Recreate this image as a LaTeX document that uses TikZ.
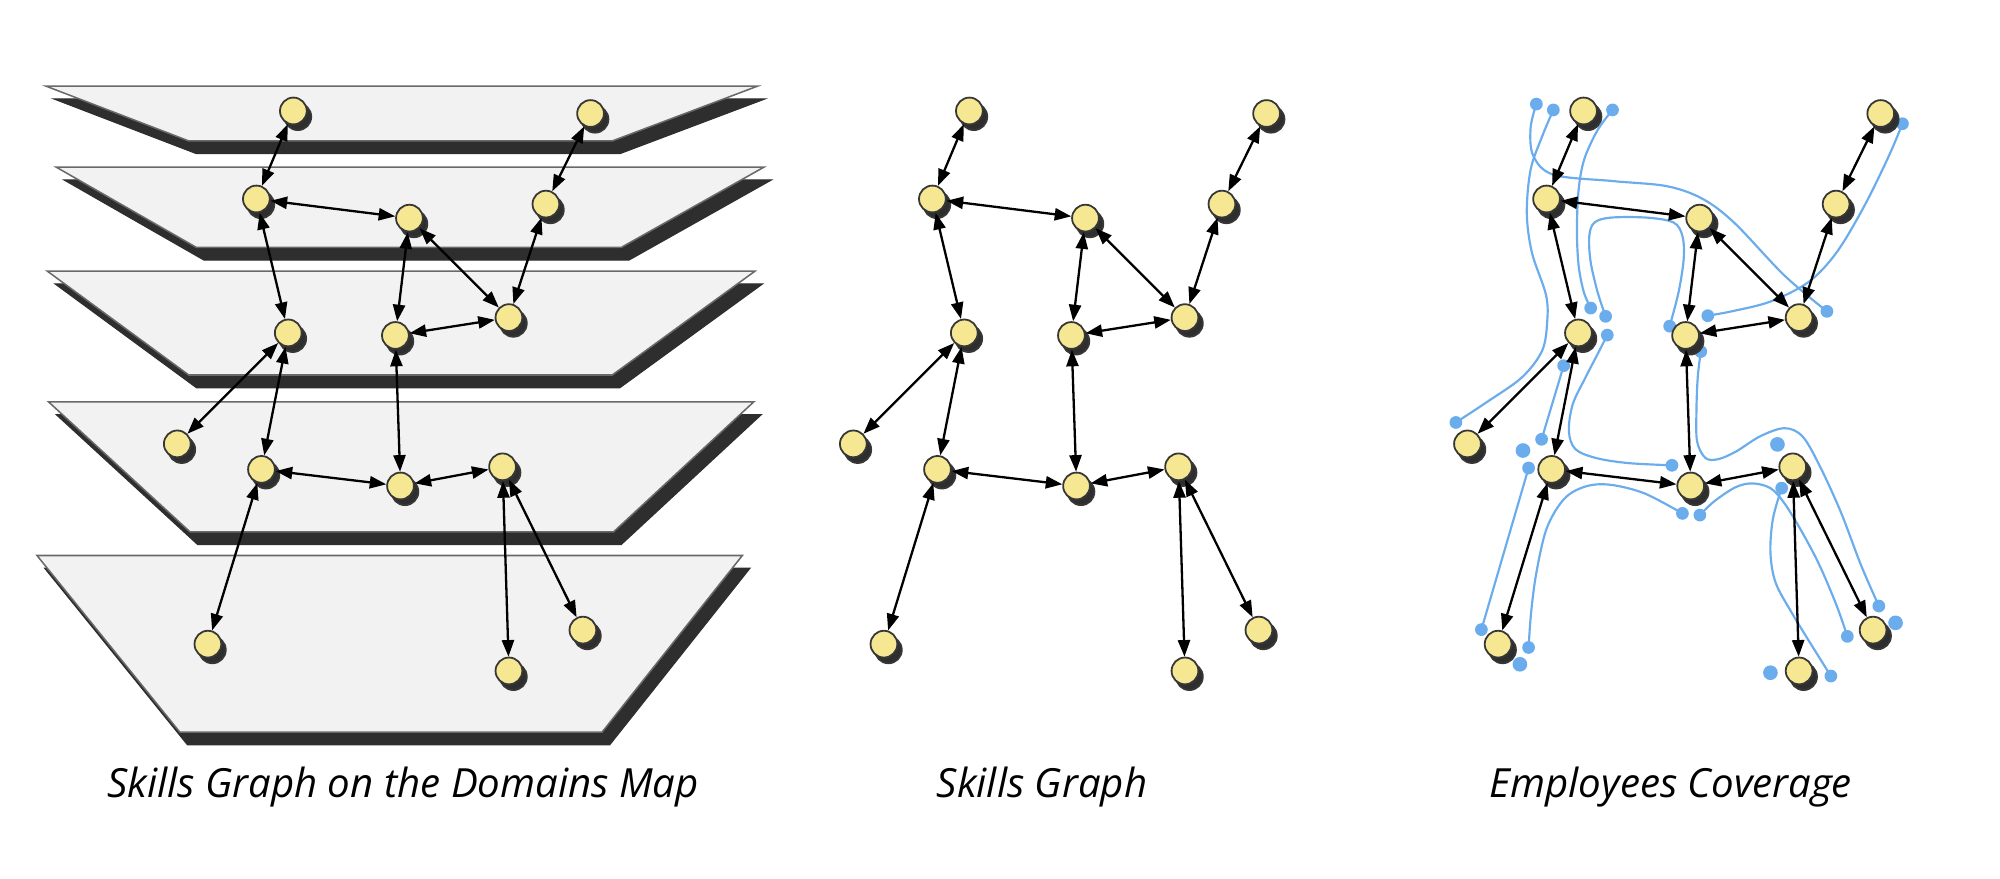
\documentclass[tikz,border=0pt]{standalone}
\usepackage{fontspec}
\setmainfont{Open Sans}
\usetikzlibrary{arrows.meta,shadows}
\definecolor{planefill}{RGB}{242,242,242}
\definecolor{planeline}{RGB}{105,105,105}
\definecolor{planeshadow}{RGB}{46,46,46}
\definecolor{skillfill}{RGB}{246,232,146}
\definecolor{skillline}{RGB}{55,55,55}
\definecolor{empblue}{RGB}{106,172,236}
\tikzset{
  plane/.style={fill=planefill, draw=planeline, line width=1.2pt, line join=miter},
  planeshade/.style={fill=planeshadow, draw=planeshadow, line width=0.8pt},
  skill/.style={circle, minimum size=21pt, inner sep=0pt, fill=skillfill, draw=skillline, line width=1.4pt,
    drop shadow={shadow xshift=3.5pt, shadow yshift=-4.5pt, fill=planeshadow, draw=skillline, opacity=1}},
  link/.style={{Triangle[length=13pt,width=9.5pt]}-{Triangle[length=13pt,width=9.5pt]}, line width=1.8pt, black},
  emp/.style={draw=empblue, line width=1.7pt, line cap=round},
  empdot/.style={circle, fill=empblue, inner sep=0pt, minimum size=10pt},
  bigdot/.style={empdot, minimum size=11.5pt},
  caption/.style={font=\fontsize{31.5}{38}\selectfont\itshape, anchor=base, inner sep=0pt}
}
\newcommand{\skgraph}[2]{%
  \begin{scope}[xshift=#2]
    \node[skill] (#1n1) at (230,87) {};
    \node[skill] (#1n2) at (201,156) {};
    \node[skill] (#1n3) at (321,171) {};
    \node[skill] (#1n4) at (463,89) {};
    \node[skill] (#1n5) at (428,160) {};
    \node[skill] (#1n6) at (226,261) {};
    \node[skill] (#1n7) at (310,263) {};
    \node[skill] (#1n8) at (399,249) {};
    \node[skill] (#1n9) at (139,348) {};
    \node[skill] (#1n10) at (205,368) {};
    \node[skill] (#1n11) at (314,381) {};
    \node[skill] (#1n12) at (394,366) {};
    \node[skill] (#1n13) at (163,505) {};
    \node[skill] (#1n14) at (399,526) {};
    \node[skill] (#1n15) at (457,494) {};
  \end{scope}
  \draw[link] (#1n1) -- (#1n2);
  \draw[link] (#1n2) -- (#1n3);
  \draw[link] (#1n2) -- (#1n6);
  \draw[link] (#1n3) -- (#1n7);
  \draw[link] (#1n3) -- (#1n8);
  \draw[link] (#1n4) -- (#1n5);
  \draw[link] (#1n5) -- (#1n8);
  \draw[link] (#1n7) -- (#1n8);
  \draw[link] (#1n6) -- (#1n9);
  \draw[link] (#1n6) -- (#1n10);
  \draw[link] (#1n7) -- (#1n11);
  \draw[link] (#1n10) -- (#1n11);
  \draw[link] (#1n11) -- (#1n12);
  \draw[link] (#1n10) -- (#1n13);
  \draw[link] (#1n12) -- (#1n14);
  \draw[link] (#1n12) -- (#1n15);
}
\begin{document}
\begin{tikzpicture}[x=1pt,y=-1pt]
\useasboundingbox (0,0) rectangle (1568,689);
% ---------- domain planes ----------
\draw[planeshade, shift={(6,10)}] (36,67.5) -- (594,67.5) -- (480,110.5) -- (148,110.5) -- cycle;
\draw[plane] (36,67.5) -- (594,67.5) -- (480,110.5) -- (148,110.5) -- cycle;
\draw[planeshade, shift={(6,10)}] (44,131) -- (599,131) -- (487,194) -- (154,194) -- cycle;
\draw[plane] (44,131) -- (599,131) -- (487,194) -- (154,194) -- cycle;
\draw[planeshade, shift={(6,10)}] (37,212.5) -- (592,212.5) -- (480,294) -- (148,294) -- cycle;
\draw[plane] (37,212.5) -- (592,212.5) -- (480,294) -- (148,294) -- cycle;
\draw[planeshade, shift={(6,10)}] (38,315) -- (591,315) -- (481,417) -- (149,417) -- cycle;
\draw[plane] (38,315) -- (591,315) -- (481,417) -- (149,417) -- cycle;
\draw[planeshade, shift={(6,10)}] (29,435.5) -- (582,435.5) -- (472,574) -- (141,574) -- cycle;
\draw[plane] (29,435.5) -- (582,435.5) -- (472,574) -- (141,574) -- cycle;
% ---------- employees coverage (blue) ----------
\node[empdot] (a1) at (1204.5,81.6) {};
\node[empdot] (a2) at (1432.3,244.1) {};
\node[empdot] (b1) at (1217.8,86.2) {};
\node[empdot] (b2) at (1141.4,331.2) {};
\node[empdot] (c1) at (1264.2,86.2) {};
\node[empdot] (c2) at (1247.1,241.5) {};
\node[empdot] (d1) at (1491.5,97) {};
\node[empdot] (d2) at (1338.9,247.5) {};
\node[empdot] (f1) at (1258.8,248) {};
\node[empdot] (f2) at (1309,255.7) {};
\node[empdot] (g1) at (1260.1,262.7) {};
\node[empdot] (g2) at (1310.8,364.8) {};
\node[empdot] (k1) at (1333.4,275.6) {};
\node[empdot] (k2) at (1473,475.1) {};
\node[empdot] (l1) at (1225.9,286.7) {};
\node[empdot] (l2) at (1208.6,344.4) {};
\node[empdot] (p1) at (1198.4,366.9) {};
\node[empdot] (p2) at (1161.4,493.6) {};
\node[empdot] (q1) at (1198.4,507.6) {};
\node[empdot] (q2) at (1319,402.5) {};
\node[empdot] (r1) at (1332.7,403.8) {};
\node[empdot] (r2) at (1448.3,498.9) {};
\node[empdot] (s1) at (1396.8,382.7) {};
\node[empdot] (s2) at (1435.4,530) {};
\node[bigdot] (t1) at (1194,353.2) {};
\node[bigdot] (t2) at (1393.5,348.4) {};
\node[bigdot] (t3) at (1191.6,520.8) {};
\node[bigdot] (t4) at (1486.1,488.3) {};
\node[bigdot] (t5) at (1388,527.4) {};
\draw[emp] plot[smooth, tension=0.55] coordinates {(a1.center) (1200,100) (1202,122) (1218,137) (1265,142) (1307,146) (1335,156) (1360,175) (1399,216) (a2.center)};
\draw[emp] plot[smooth, tension=0.55] coordinates {(b1.center) (1209,107) (1200,133) (1197,167) (1201,198) (1212,231) (1213,252) (1209,275) (1193,296) (1166,315) (b2.center)};
\draw[emp] plot[smooth, tension=0.55] coordinates {(c1.center) (1252.5,102) (1242,125) (1237.6,149) (1236.3,180) (1237.6,208) (1241.7,229) (c2.center)};
\draw[emp] plot[smooth, tension=0.55] coordinates {(f1.center) (1252.5,229) (1247,205) (1246,185) (1250,174.5) (1263,170.6) (1291,170.6) (1312,174.4) (1319,185) (1320,203) (1316,229) (f2.center)};
\draw[emp] plot[smooth, tension=0.55] coordinates {(d1.center) (1480.6,122.8) (1461.6,161.5) (1440,197.7) (1418,221) (1388,236.4) (1358,244) (d2.center)};
\draw[emp] plot[smooth, tension=0.55] coordinates {(g1.center) (1252.5,277.6) (1243,296) (1233,317) (1230,338) (1235,352) (1251,359) (1276,363) (g2.center)};
\draw[emp] plot[smooth, tension=0.55] coordinates {(k1.center) (1331,296) (1330,322) (1330.5,346) (1337,359) (1347,360) (1361,354) (1380,342) (1399,335.7) (1413,342) (1426,364) (1443,401) (1459,443) (k2.center)};
\draw[emp] (l1.center) -- (l2.center);
\draw[emp] (p1.center) -- (p2.center);
\draw[emp] plot[smooth, tension=0.55] coordinates {(q1.center) (1200.4,480) (1204.5,449) (1212.7,414) (1226.4,391) (1243,381.4) (1262,380) (1289,386.7) (q2.center)};
\draw[emp] plot[smooth, tension=0.55] coordinates {(r1.center) (1344,393) (1360.6,382) (1374,379) (1388,382.7) (1399,394.6) (1412.7,417) (1426.4,443) (1440,475) (r2.center)};
\draw[emp] plot[smooth, tension=0.55] coordinates {(s1.center) (1390,406.5) (1388,433) (1392,456.6) (1404.5,480) (1421,507) (s2.center)};
% ---------- the three skills graphs ----------
\skgraph{L}{0pt}
\skgraph{M}{530pt}
\skgraph{R}{1011.5pt}
% ---------- captions ----------
\node[caption] (capL) at (316,625) {Skills Graph on the Domains Map};
\node[caption] (capM) at (817,625) {Skills Graph};
\node[caption] (capR) at (1310,625) {Employees Coverage};
\end{tikzpicture}
\end{document}
